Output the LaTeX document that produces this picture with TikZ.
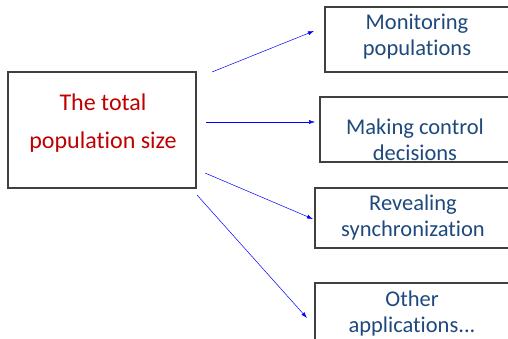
\documentclass[tikz,border=0pt]{standalone}
\usepackage{fontspec}
\setmainfont{Carlito}[Ligatures=NoCommon]
\usetikzlibrary{arrows.meta}
\definecolor{srcred}{RGB}{192,0,0}
\definecolor{appblue}{RGB}{31,73,125}
\begin{document}
\begin{tikzpicture}[x=1pt,y=-1pt,
  frame/.style={draw=black!75, line width=1.3pt, fill=white, inner sep=0pt},
  srclbl/.style={font=\fontsize{24}{38}\selectfont, align=center, inner sep=0pt, text=srcred},
  applbl/.style={font=\fontsize{22.5}{26}\selectfont, align=center, inner sep=0pt, text=appblue},
  link/.style={draw=blue, line width=0.5pt, -{Latex[length=6pt,width=4pt]}}]
\useasboundingbox (0,0) rectangle (508,339);
\clip (0,0) rectangle (508,339);

% source box
\draw[frame] (8,72) rectangle (196,188);
\node[srclbl] (src) at (103,123) {The total\\population size};

% application boxes (running off the right edge)
\draw[frame] (325,7) rectangle (530,72);
\draw[frame] (320,97) rectangle (530,162);
\draw[frame] (315,188) rectangle (530,248);
\draw[frame] (315,283) rectangle (530,360);

\node[applbl] (app1) at (417,37) {Monitoring\\populations};
\node[applbl] (app2) at (415,140) {Making control\\decisions};
\node[applbl] (app3) at (413,218) {Revealing\\synchronization};
\node[applbl] (app4) at (412,313) {Other\\applications...};

% connector ends
\coordinate (s1) at (212,72);  \coordinate (e1) at (314,31);
\coordinate (s2) at (206,122); \coordinate (e2) at (315,122);
\coordinate (s3) at (205,173); \coordinate (e3) at (313,219);
\coordinate (s4) at (197,195); \coordinate (e4) at (307,318);

\draw[link] (s1) -- (e1);
\draw[link] (s2) -- (e2);
\draw[link] (s3) -- (e3);
\draw[link] (s4) -- (e4);
\end{tikzpicture}
\end{document}
